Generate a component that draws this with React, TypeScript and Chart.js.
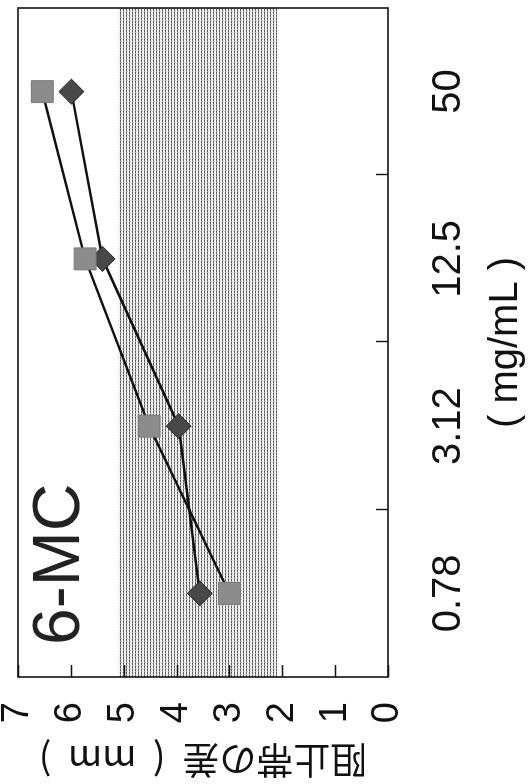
import React, { useEffect, useRef } from "react";
import { Chart, registerables } from "chart.js";

Chart.register(...registerables);

// ---- data ----
const CONCENTRATIONS = ["0.78", "3.12", "12.5", "50"];
const SERIES_SQUARE = [3.0, 4.52, 5.73, 6.54];
const SERIES_DIAMOND = [3.56, 3.96, 5.4, 5.99];
const BAND_RANGE = [2.1, 5.1];
const VALUE_MIN = 0;
const VALUE_MAX = 7;
const VALUE_STEP = 1;
const PANEL_LABEL = "6-MC";
const X_TITLE = "( mg/mL )";
const Y_TITLE = "阻止帯の差  (  mm  )";

// chart drawn in its natural orientation, then rotated 90° counter-clockwise
const W = 784;
const H = 528;

function makePattern(ctx: CanvasRenderingContext2D) {
  const tile = document.createElement("canvas");
  tile.width = 3;
  tile.height = 3;
  const t = tile.getContext("2d")!;
  t.fillStyle = "#ffffff";
  t.fillRect(0, 0, 3, 3);
  t.fillStyle = "#5a5a5a";
  t.fillRect(0, 0, 1, 1);
  t.fillRect(2, 0, 1, 1);
  t.fillStyle = "#a8a8a8";
  t.fillRect(1, 0, 1, 1);
  t.fillStyle = "#cccccc";
  t.fillRect(1, 1, 1, 1);
  t.fillStyle = "#e2e2e2";
  t.fillRect(0, 2, 1, 1);
  return ctx.createPattern(tile, "repeat");
}

export default function App() {
  const ref = useRef<HTMLCanvasElement | null>(null);

  useEffect(() => {
    const canvas = ref.current;
    if (!canvas) return;
    const ctx0 = canvas.getContext("2d")!;
    const pattern = makePattern(ctx0);

    const decorPlugin = {
      id: "decor",
      beforeDatasetsDraw(chart: any) {
        const { ctx, chartArea: a, scales } = chart;
        const y = scales.y;
        const x = scales.x;
        const yTop = y.getPixelForValue(BAND_RANGE[1]);
        const yBot = y.getPixelForValue(BAND_RANGE[0]);
        ctx.save();
        ctx.fillStyle = pattern || "#cfcfcf";
        ctx.fillRect(a.left, yTop, a.right - a.left, yBot - yTop);

        // frame
        ctx.strokeStyle = "#111";
        ctx.lineWidth = 1.6;
        ctx.strokeRect(a.left, a.top, a.right - a.left, a.bottom - a.top);

        // inner ticks on value axis
        ctx.lineWidth = 1.4;
        ctx.beginPath();
        for (let v = VALUE_MIN; v <= VALUE_MAX; v += VALUE_STEP) {
          const py = Math.round(y.getPixelForValue(v)) + 0.5;
          ctx.moveTo(a.left, py);
          ctx.lineTo(a.left + 12, py);
        }
        // inner ticks on category axis, between categories
        for (let i = 1; i < CONCENTRATIONS.length; i++) {
          const px =
            Math.round((x.getPixelForTick(i - 1) + x.getPixelForTick(i)) / 2) + 0.5;
          ctx.moveTo(px, a.bottom);
          ctx.lineTo(px, a.bottom - 12);
        }
        ctx.stroke();
        ctx.restore();
      },
      afterDraw(chart: any) {
        const { ctx, chartArea: a } = chart;
        ctx.save();
        ctx.fillStyle = "#222";
        ctx.font = "66px 'Liberation Sans', Arial, sans-serif";
        ctx.textAlign = "left";
        ctx.textBaseline = "alphabetic";
        ctx.fillText(PANEL_LABEL, a.left + 32, a.top + 61);
        ctx.restore();
      },
    };

    const chart = new Chart(canvas, {
      type: "line",
      data: {
        labels: CONCENTRATIONS,
        datasets: [
          {
            data: SERIES_SQUARE,
            borderColor: "#111",
            borderWidth: 2.5,
            pointStyle: "rect",
            pointRadius: 15.5,
            pointBackgroundColor: "#8c8c8c",
            pointBorderColor: "#777",
            pointBorderWidth: 1,
            fill: false,
            tension: 0,
          },
          {
            data: SERIES_DIAMOND,
            borderColor: "#111",
            borderWidth: 2.5,
            pointStyle: "rectRot",
            pointRadius: 12.5,
            pointBackgroundColor: "#484848",
            pointBorderColor: "#222",
            pointBorderWidth: 1,
            fill: false,
            tension: 0,
          },
        ],
      },
      options: {
        animation: false,
        responsive: false,
        layout: { autoPadding: false, padding: { top: 18, right: 8, left: 0, bottom: 0 } },
        plugins: {
          legend: { display: false },
          tooltip: { enabled: false },
        },
        scales: {
          x: {
            type: "category",
            offset: true,
            grid: { display: false },
            border: { display: false },
            ticks: {
              padding: 29,
              maxRotation: 0,
              minRotation: 0,
              color: "#111",
              font: { family: "'Liberation Sans', Arial, sans-serif", size: 40 },
            },
            title: {
              display: true,
              text: X_TITLE,
              color: "#111",
              padding: { top: 0, bottom: 2 },
              font: { family: "'Liberation Sans', Arial, sans-serif", size: 40, lineHeight: 1 },
            },
            afterFit: (s: any) => {
              s.height = 140;
            },
          },
          y: {
            min: VALUE_MIN,
            max: VALUE_MAX,
            grid: { display: false },
            border: { display: false },
            ticks: {
              stepSize: VALUE_STEP,
              autoSkip: false,
              padding: 17,
              color: "#111",
              font: {
                family: "'Liberation Sans Narrow', 'Liberation Sans', Arial, sans-serif",
                size: 38,
                lineHeight: 0.02,
              },
            },
            title: {
              display: true,
              text: Y_TITLE,
              color: "#111",
              padding: { top: 5, bottom: 0 },
              font: { family: "'Noto Sans CJK JP', sans-serif", size: 37, lineHeight: 1 },
            },
            afterFit: (s: any) => {
              s.width = 107;
            },
          },
        },
      } as any,
      plugins: [decorPlugin],
    });

    return () => chart.destroy();
  }, []);

  return (
    <div
      style={{
        position: "fixed",
        left: 0,
        top: 0,
        width: H,
        height: W,
        overflow: "hidden",
        background: "#fff",
      }}
    >
      <div
        style={{
          position: "absolute",
          left: 0,
          top: 0,
          width: W,
          height: H,
          transformOrigin: "top left",
          transform: `translateY(${W}px) rotate(-90deg)`,
        }}
      >
        <canvas ref={ref} width={W} height={H} style={{ display: "block" }} />
      </div>
    </div>
  );
}
